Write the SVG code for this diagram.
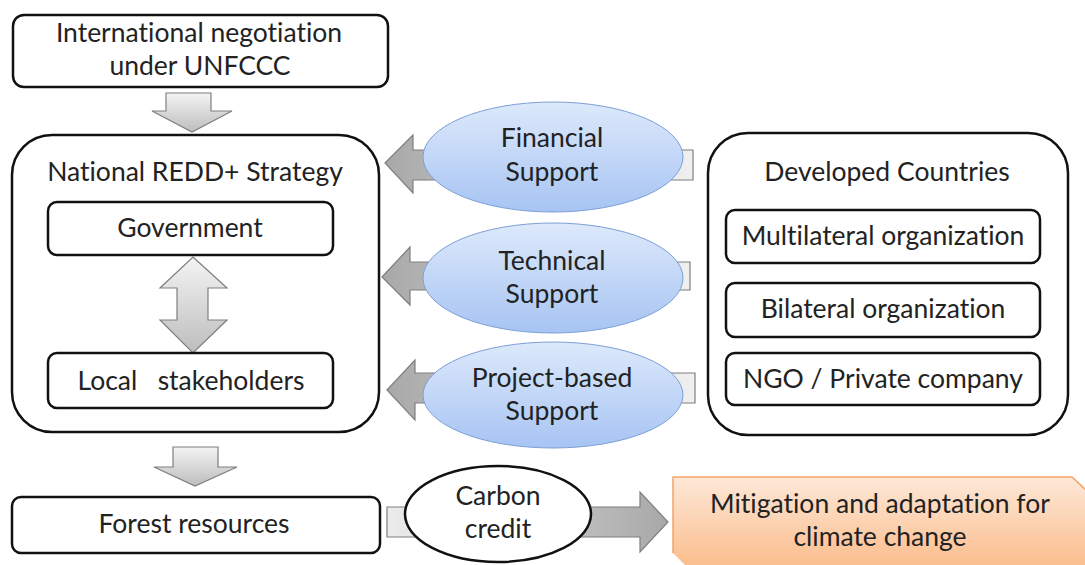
<svg xmlns="http://www.w3.org/2000/svg" width="1085" height="565" viewBox="0 0 1085 565">
  <defs>
    <linearGradient id="gArrowDown" x1="0" y1="0" x2="0" y2="1">
      <stop offset="0" stop-color="#f4f4f4"/>
      <stop offset="1" stop-color="#bdbdbd"/>
    </linearGradient>
    <linearGradient id="gArrowLeft" x1="0" y1="0" x2="1" y2="0">
      <stop offset="0" stop-color="#a8a8a8"/>
      <stop offset="1" stop-color="#f0f0f0"/>
    </linearGradient>
    <linearGradient id="gArrowRight" x1="0" y1="0" x2="1" y2="0">
      <stop offset="0" stop-color="#ececec"/>
      <stop offset="1" stop-color="#a8a8a8"/>
    </linearGradient>
    <linearGradient id="gBlue" x1="0" y1="0" x2="0" y2="1">
      <stop offset="0" stop-color="#dde9fb"/>
      <stop offset="1" stop-color="#a7c4f3"/>
    </linearGradient>
    <linearGradient id="gOrange" x1="0" y1="0" x2="0" y2="1">
      <stop offset="0" stop-color="#fde8d8"/>
      <stop offset="1" stop-color="#fbbd8c"/>
    </linearGradient>
  </defs>
  <style>
    .box { fill: #ffffff; stroke: #111111; stroke-width: 2.5; }
    .frame { fill: none; stroke: #111111; stroke-width: 2.5; }
    .oval { fill: url(#gBlue); stroke: #7d9fd6; stroke-width: 1; }
    .plain { fill: #ffffff; stroke: #111111; stroke-width: 2.5; }
    .arrow { stroke: #7f7f7f; stroke-width: 1.2; stroke-linejoin: miter; }
    .down { fill: url(#gArrowDown); }
    .left { fill: url(#gArrowLeft); }
    .right { fill: url(#gArrowRight); }
    text { font-family: Lato, "Liberation Sans", sans-serif; font-size: 26.5px; fill: #222222; text-anchor: middle; font-variant-ligatures: none; }
  </style>

  <!-- outer containers -->
  <g id="negotiation">
    <rect class="box" x="13" y="15" width="375" height="72" rx="11"/>
    <text x="199" y="42">International negotiation</text>
    <text x="200" y="75">under UNFCCC</text>
  </g>
  <g id="national-strategy">
    <rect class="frame" x="12" y="135" width="367" height="297" rx="40"/>
    <text x="195" y="181">National REDD+ Strategy</text>
  </g>
  <g id="developed-countries">
    <rect class="frame" x="708" y="133" width="360" height="302" rx="40"/>
    <text x="887" y="181">Developed Countries</text>
  </g>

  <!-- block arrows -->
  <g id="connectors">
    <path class="arrow down" d="M166,93 H211 V111 H232 L192,132 L152,111 H166 Z"/>
    <path class="arrow down" d="M193,257 L227,288 H208 V320 H227 L193,353 L160,320 H177 V288 H160 Z"/>
    <path class="arrow down" d="M173,447 H218 V467 H237 L195,486 L154,467 H173 Z"/>
    <path class="arrow left" d="M385,163 L413,135 V150 H693 V180 H413 V193 Z"/>
    <path class="arrow left" d="M382,277 L410,247 V262 H690 V290 H410 V305 Z"/>
    <path class="arrow left" d="M387,390 L415,360 V373 H695 V403 H415 V420 Z"/>
    <path class="arrow right" d="M387,507 H640 V492 L668,522 L640,552 V537 H387 Z"/>
  </g>

  <g id="government">
    <rect class="box" x="48" y="202" width="285" height="53" rx="9"/>
    <text x="190" y="237">Government</text>
  </g>
  <g id="local-stakeholders">
    <rect class="box" x="48" y="353" width="285" height="55" rx="9"/>
    <text x="191" y="390" xml:space="preserve">Local   stakeholders</text>
  </g>
  <g id="forest-resources">
    <rect class="box" x="12" y="497" width="368" height="56" rx="9"/>
    <text x="194" y="533">Forest resources</text>
  </g>

  <g id="financial-support">
    <ellipse class="oval" cx="553" cy="157" rx="130" ry="55"/>
    <text x="552" y="147">Financial</text>
    <text x="552" y="181">Support</text>
  </g>
  <g id="technical-support">
    <ellipse class="oval" cx="553" cy="278" rx="130" ry="55"/>
    <text x="552" y="270">Technical</text>
    <text x="552" y="303">Support</text>
  </g>
  <g id="project-support">
    <ellipse class="oval" cx="553" cy="395" rx="130" ry="53"/>
    <text x="552" y="387">Project-based</text>
    <text x="552" y="420">Support</text>
  </g>

  <g id="multilateral">
    <rect class="box" x="726" y="210" width="314" height="53" rx="9"/>
    <text x="883" y="245">Multilateral organization</text>
  </g>
  <g id="bilateral">
    <rect class="box" x="726" y="283" width="314" height="54" rx="9"/>
    <text x="883" y="318">Bilateral organization</text>
  </g>
  <g id="ngo-private">
    <rect class="box" x="726" y="353" width="314" height="52" rx="9"/>
    <text x="883" y="388">NGO / Private company</text>
  </g>

  <g id="carbon-credit">
    <ellipse class="plain" cx="498" cy="514" rx="93" ry="48"/>
    <text x="498" y="505">Carbon</text>
    <text x="498" y="538">credit</text>
  </g>

  <g id="mitigation">
    <path d="M673,477 H1072 L1087,491 V567 H687 L673,553 Z" fill="url(#gOrange)" stroke="none"/>
    <path d="M673,553 V477 H1072 L1087,491" fill="none" stroke="#f4a468" stroke-width="1.5"/>
    <text x="880" y="513">Mitigation and adaptation for</text>
    <text x="880" y="546">climate change</text>
  </g>
</svg>
